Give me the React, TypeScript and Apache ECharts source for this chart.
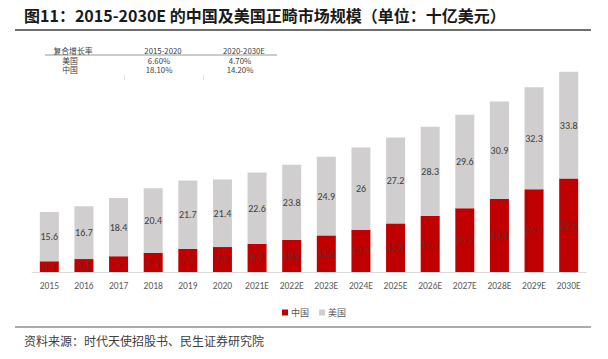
import React, { useEffect, useRef } from "react";
import * as echarts from "echarts";

const categories = ["2015", "2016", "2017", "2018", "2019", "2020", "2021E", "2022E", "2023E", "2024E", "2025E", "2026E", "2027E", "2028E", "2029E", "2030E"];
const chinaValues = [3.4, 4.1, 5, 6.1, 7.3, 7.9, 8.9, 10.2, 11.6, 13.4, 15.4, 17.7, 20.2, 23.1, 26.2, 29.6];
const usValues = [15.6, 16.7, 18.4, 20.4, 21.7, 21.4, 22.6, 23.8, 24.9, 26, 27.2, 28.3, 29.6, 30.9, 32.3, 33.8];
const seriesNames = ["中国", "美国"];
const tableHeader = ["复合增长率", "2015-2020", "2020-2030E"];
const tableRows = [
  ["美国", "6.60%", "4.70%"],
  ["中国", "18.10%", "14.20%"],
];
const titleText = "图11：2015-2030E 的中国及美国正畸市场规模（单位：十亿美元）";
const sourceText = "资料来源：时代天使招股书、民生证券研究院";

const FONT = '"Noto Sans CJK SC", "Noto Sans", sans-serif';
const NUMFONT = "Calibri, Carlito, 'Liberation Sans', sans-serif";

export default function App() {
  const ref = useRef<HTMLDivElement>(null);
  useEffect(() => {
    if (!ref.current) return;
    const chart = echarts.init(ref.current, null, { renderer: "svg" });
    const tFont = { fontFamily: FONT, fontSize: 7.8, fill: "#404040" };
    const tableGraphics: any[] = [];
    const colX = [73, 163, 244];
    tableHeader.forEach((t, i) => {
      tableGraphics.push({ type: "text", x: colX[i], y: 50, style: { ...tFont, text: t, textAlign: "center", textVerticalAlign: "middle" } });
    });
    tableRows.forEach((row, r) => {
      row.forEach((t, i) => {
        tableGraphics.push({ type: "text", x: i === 0 ? 70 : colX[i] - 4, y: 60 + r * 9.5, style: { ...tFont, text: t, textAlign: "center", textVerticalAlign: "middle" } });
      });
    });
    tableGraphics.push({ type: "line", shape: { x1: 45, y1: 55, x2: 277, y2: 55 }, style: { stroke: "#7f7f7f", lineWidth: 0.8 } });
    tableGraphics.push({ type: "line", shape: { x1: 124.5, y1: 75, x2: 124.5, y2: 80 }, style: { stroke: "#d9d9d9", lineWidth: 0.8 } });
    tableGraphics.push({ type: "line", shape: { x1: 203.5, y1: 75, x2: 203.5, y2: 80 }, style: { stroke: "#d9d9d9", lineWidth: 0.8 } });

    chart.setOption({
      animation: false,
      grid: { left: 32, right: 22, top: 51, bottom: 87, containLabel: false },
      legend: {
        data: seriesNames,
        left: 277,
        top: 303,
        itemWidth: 6,
        itemHeight: 6,
        itemGap: 10,
        icon: "rect",
        textStyle: { fontFamily: FONT, fontSize: 9, color: "#595959", padding: [0, 0, 0, -2] },
      },
      xAxis: {
        type: "category",
        data: categories,
        axisLine: { lineStyle: { color: "#d9d9d9", width: 1 } },
        axisTick: { show: false },
        axisLabel: { fontFamily: NUMFONT, fontSize: 9.5, color: "#595959", margin: 9 },
      },
      yAxis: { type: "value", min: 0, max: 70, show: false, splitLine: { show: false } },
      series: [
        {
          name: seriesNames[0],
          type: "bar",
          stack: "total",
          data: chinaValues,
          barWidth: 19,
          itemStyle: { color: "#c00000" },
          label: { show: true, position: "inside", fontFamily: NUMFONT, fontSize: 10, color: "#6b2a2a" },
        },
        {
          name: seriesNames[1],
          type: "bar",
          stack: "total",
          data: usValues,
          barWidth: 19,
          itemStyle: { color: "#d0cece" },
          label: { show: true, position: "inside", fontFamily: NUMFONT, fontSize: 10, color: "#404040" },
        },
      ],
      graphic: [
        { type: "text", x: 24, y: 15, style: { text: titleText, fontFamily: FONT, fontSize: 16, fontWeight: "bold", fill: "#1a1a1a", textVerticalAlign: "middle" } },
        { type: "line", shape: { x1: 15, y1: 30, x2: 591, y2: 30 }, style: { stroke: "#404040", lineWidth: 1.5 } },
        { type: "line", shape: { x1: 15, y1: 327, x2: 591, y2: 327 }, style: { stroke: "#595959", lineWidth: 1.2 } },
        { type: "text", x: 24, y: 340, style: { text: sourceText, fontFamily: FONT, fontSize: 12, fill: "#404040", textVerticalAlign: "middle" } },
        ...tableGraphics,
      ],
    });
    return () => chart.dispose();
  }, []);
  return <div ref={ref} style={{ position: "fixed", left: 0, top: 0, width: 608, height: 359, background: "#fff" }} />;
}
